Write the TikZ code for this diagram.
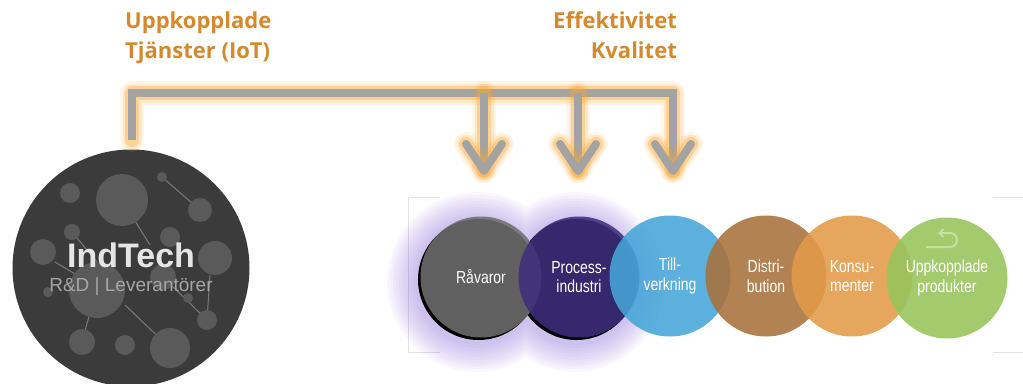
\documentclass[tikz,border=0pt]{standalone}
\usepackage{fontspec}
\setmainfont{Liberation Sans}
\newfontfamily\osfont{Open Sans}
\usetikzlibrary{arrows.meta}
\definecolor{txtorange}{HTML}{D4892E}
\definecolor{glow}{HTML}{FFA733}
\definecolor{bargray}{HTML}{A3A3A3}
\definecolor{darkc}{HTML}{3B3B3B}
\definecolor{innerc}{HTML}{5A5A5A}
\definecolor{cgray}{HTML}{6E6E6E}
\definecolor{cpurple}{HTML}{3D2E7C}
\definecolor{cblue}{HTML}{45A5D8}
\definecolor{cbrown}{HTML}{A9713A}
\definecolor{corange}{HTML}{E39A48}
\definecolor{cgreen}{HTML}{96C45A}
\definecolor{pglow}{HTML}{8C6FD8}
\definecolor{bracketc}{HTML}{E2E2E2}
\newcommand\nar[1]{\scalebox{0.8}[1]{#1}}
\tikzset{
  glowline/.style={line width=8, draw=bargray, line cap=butt, line join=miter,
    preaction={draw=glow, line width=24, opacity=0.10, line join=round, line cap=round},
    preaction={draw=glow, line width=19, opacity=0.18, line join=round, line cap=round},
    preaction={draw=glow, line width=14, opacity=0.35, line join=round, line cap=round}},
  chevron/.style={glowline, line join=round, line cap=round},
  toptext/.style={font=\osfont\bfseries\fontsize{22}{30}\selectfont, text=txtorange, inner sep=0},
  stage/.style={circle, minimum size=121, inner sep=0, fill opacity=0.88, text opacity=1,
    text=white, align=center, font=\fontsize{17.5}{19.5}\selectfont},
  dot/.style={circle, fill=innerc, inner sep=0},
  web/.style={draw=innerc!80!white, line width=1},
  bracket/.style={draw=bracketc, line width=1}
}
\begin{document}
\begin{tikzpicture}[x=1pt,y=-1pt]
\useasboundingbox (0,0) rectangle (1023,383);

% top texts
\node[toptext, anchor=base west] (iot1) at (125,28) {Uppkopplade};
\node[toptext, anchor=base west] (iot2) at (125,58) {Tjänster (IoT)};
\node[toptext, anchor=base east] (eff1) at (677,28) {Effektivitet};
\node[toptext, anchor=base east] (eff2) at (677,58) {Kvalitet};

% IndTech circle
\node[circle, fill=darkc, minimum size=237, inner sep=0] (ind) at (131,268) {};
\draw[web] (162,177) -- (200,210);
\draw[web] (122,200) -- (150,245);
\draw[web] (55,262) -- (97,287);
\draw[web] (97,287) -- (82,342);
\draw[web] (125,305) -- (170,348);
\draw[web] (207,320) -- (210,275);
\draw[web] (163,277) -- (207,320);
\draw[web] (72,232) -- (97,262);
\node[dot, minimum size=52] (d1) at (122,200) {};
\node[dot, minimum size=20] (d2) at (70,193) {};
\node[dot, minimum size=10] (d3) at (162,177) {};
\node[dot, minimum size=24] (d4) at (200,210) {};
\node[dot, minimum size=16] (d5) at (72,232) {};
\node[dot, minimum size=20] (d6) at (170,237) {};
\node[dot, minimum size=26] (d7) at (43,252) {};
\node[dot, minimum size=34] (d8) at (215,258) {};
\node[dot, minimum size=56] (d9) at (97,290) {};
\node[dot, minimum size=26] (d10) at (163,277) {};
\node[dot, minimum size=10] (d11) at (48,292) {};
\node[dot, minimum size=10] (d12) at (188,298) {};
\node[dot, minimum size=20] (d13) at (207,320) {};
\node[dot, minimum size=26] (d14) at (82,342) {};
\node[dot, minimum size=20] (d15) at (125,345) {};
\node[dot, minimum size=40] (d16) at (170,348) {};
\node[font=\bfseries\fontsize{34}{36}\selectfont, text=white!90!black] (indt) at (131,255) {IndTech};
\node[font=\fontsize{19}{21}\selectfont, text=white!65!black] (rd) at (131,287) {R\&D | Leverantörer};

% connectors
\coordinate (s0) at (132,140);
\coordinate (c0) at (132,93);
\coordinate (a1) at (484,93);
\coordinate (a2) at (578,93);
\coordinate (a3) at (673,93);
\coordinate (t1) at (484,171);
\coordinate (t2) at (578,171);
\coordinate (t3) at (673,171);
\draw[glowline] (s0) -- (c0) -- (a3) -- (t3);
\draw[glowline] (a1) -- (t1);
\draw[glowline] (a2) -- (t2);
\foreach \t in {t1,t2,t3}{
  \draw[chevron] ([shift={(-18,-27)}]\t) -- (\t) -- ([shift={(18,-27)}]\t);
}

% brackets
\draw[bracket] (440,197) -- (408,197) -- (408,352) -- (440,352);
\draw[bracket] (993,197) -- (1023,197);
\draw[bracket] (993,352) -- (1023,352);

% purple glow
\foreach \r in {90,87,84,81,78,75,72,69,66,63}{
  \fill[pglow, opacity=0.055] (477,282) circle (\r) (575,282) circle (\r);
}

% shadows
\fill[black] (478.5,279.5) circle (60.5);
\fill[black] (576.5,279.5) circle (60.5);

% stages
\node[stage, fill=cgray] (rav) at (481,277) {\nar{Råvaror}};
\node[stage, fill=cpurple] (proc) at (579,277) {\nar{Process-}\\\nar{industri}};
\node[stage, fill=cblue] (till) at (670,276) {\nar{Till-}\\\nar{verkning}};
\node[stage, fill=cbrown] (dist) at (766,276) {\nar{Distri-}\\\nar{bution}};
\node[stage, fill=corange] (kons) at (852,276) {\nar{Konsu-}\\\nar{menter}};
\node[stage, fill=cgreen] (prod) at (947,278) {\nar{Uppkopplade}\\\nar{produkter}};

% return icon
\coordinate (r0) at (926,247);
\coordinate (r1) at (950,247);
\draw[cgreen!55!white, line width=2, -{Straight Barb[length=4,width=8]}]
  (r0) -- (r1) arc[start angle=90, end angle=-90, radius=7] -- ++(-12,0);
\end{tikzpicture}
\end{document}
